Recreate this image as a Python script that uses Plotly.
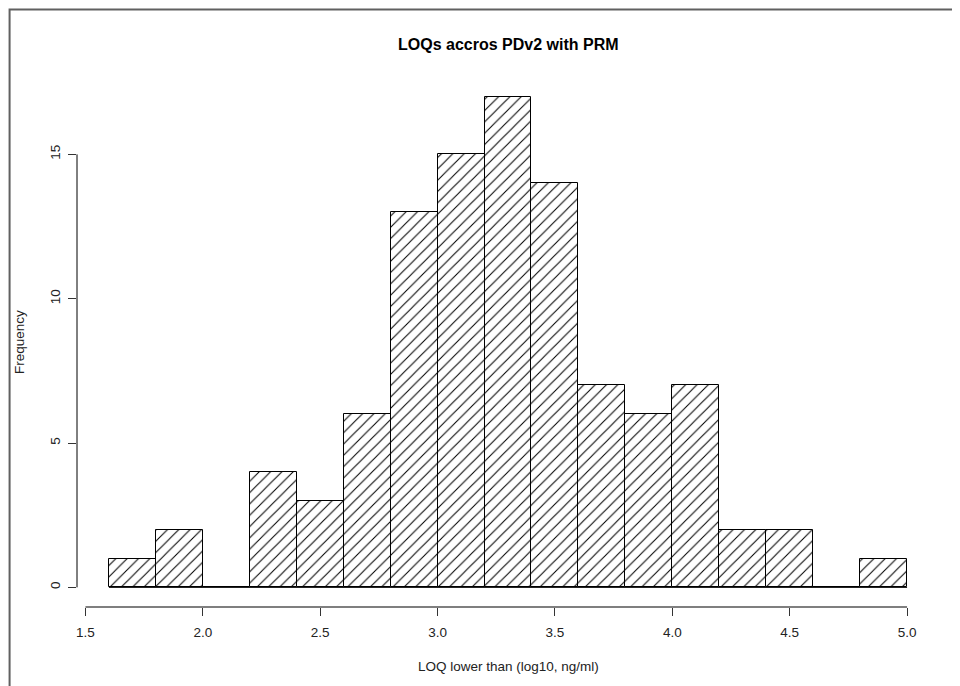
import plotly.graph_objects as go

# Data: histogram bins and counts
bin_edges = [1.6, 1.8, 2.0, 2.2, 2.4, 2.6, 2.8, 3.0, 3.2, 3.4, 3.6, 3.8, 4.0, 4.2, 4.4, 4.6, 4.8, 5.0]
counts = [1, 2, 0, 4, 3, 6, 13, 15, 17, 14, 7, 6, 7, 2, 2, 0, 1]
x_ticks = [1.5, 2.0, 2.5, 3.0, 3.5, 4.0, 4.5, 5.0]
x_tick_labels = ["1.5", "2.0", "2.5", "3.0", "3.5", "4.0", "4.5", "5.0"]
y_ticks = [0, 5, 10, 15]
y_tick_labels = ["0", "5", "10", "15"]
title = "LOQs accros PDv2 with PRM"
x_title = "LOQ lower than (log10, ng/ml)"
y_title = "Frequency"

mids = [(a + b) / 2 for a, b in zip(bin_edges[:-1], bin_edges[1:])]
widths = [b - a for a, b in zip(bin_edges[:-1], bin_edges[1:])]

xmin, xmax = bin_edges[0], bin_edges[-1]
xpad = 0.04 * (xmax - xmin)
ymax = max(counts)
ypad = 0.04 * ymax

# page has an 8px body margin; figure sized to fit the window
W, H = 952, 678
L, R, T, B = 68.5, 20.5, 68.6, 79.4
PW, PH = W - L - R, H - T - B

fig = go.Figure()
fig.add_trace(go.Bar(
    x=mids, y=counts, width=widths,
    marker=dict(
        color="white",
        line=dict(color="black", width=1),
        pattern=dict(shape="/", fgcolor="black", bgcolor="white", size=8, solidity=0.13, fgopacity=1),
    ),
    showlegend=False, hoverinfo="x+y",
))

FONT = "Liberation Sans, Arial, sans-serif"

fig.update_layout(
    width=W, height=H,
    margin=dict(l=L, r=R, t=T, b=B),
    paper_bgcolor="white", plot_bgcolor="white",
    font=dict(family=FONT, size=13, color="black"),
    bargap=0,
    xaxis=dict(
        range=[xmin - xpad, xmax + xpad], tickvals=x_ticks, ticktext=x_tick_labels,
        ticks="outside", ticklen=8, tickwidth=1, tickcolor="#333",
        showgrid=False, zeroline=False, showline=False,
        tickfont=dict(size=13.5, family=FONT, color="#222"),
        ticklabelstandoff=5,
    ),
    yaxis=dict(
        range=[-ypad, ymax + ypad], tickvals=y_ticks, ticktext=y_tick_labels,
        ticks="outside", ticklen=8, tickwidth=1, tickcolor="#333",
        showgrid=False, zeroline=False, showline=False, tickangle=-90,
        tickfont=dict(size=13.5, family=FONT, color="#222"),
        ticklabelstandoff=3,
    ),
    shapes=[
        dict(type="line", xref="x", yref="paper", x0=x_ticks[0], x1=x_ticks[-1], y0=0, y1=0,
             line=dict(color="#555", width=1.3)),
        dict(type="line", xref="paper", yref="y", x0=0, x1=0, y0=y_ticks[0], y1=y_ticks[-1],
             line=dict(color="black", width=1)),
        dict(type="line", xref="x", yref="y", x0=xmin, x1=xmax, y0=0, y1=0,
             line=dict(color="black", width=1), layer="above"),
        dict(type="rect", xref="paper", yref="paper",
             x0=(1 - L) / PW, x1=1.2, y0=-0.3, y1=1 + (T - 1) / PH,
             line=dict(color="#606060", width=2), fillcolor="rgba(0,0,0,0)"),
    ],
    annotations=[
        dict(text="<b>" + title + "</b>", xref="paper", yref="paper", x=0.5, y=1,
             yshift=33, showarrow=False, font=dict(size=16, family=FONT, color="black"),
             xanchor="center", yanchor="middle"),
        dict(text=x_title, xref="paper", yref="paper", x=0.5, y=0, yshift=-59,
             showarrow=False, font=dict(size=13.5, family=FONT, color="#222"),
             xanchor="center", yanchor="middle"),
        dict(text=y_title, xref="paper", yref="paper", x=0, y=0.5, xshift=-58,
             showarrow=False, textangle=-90, font=dict(size=13.5, family=FONT, color="#222"),
             xanchor="center", yanchor="middle"),
    ],
)

fig.write_html("out.html")
